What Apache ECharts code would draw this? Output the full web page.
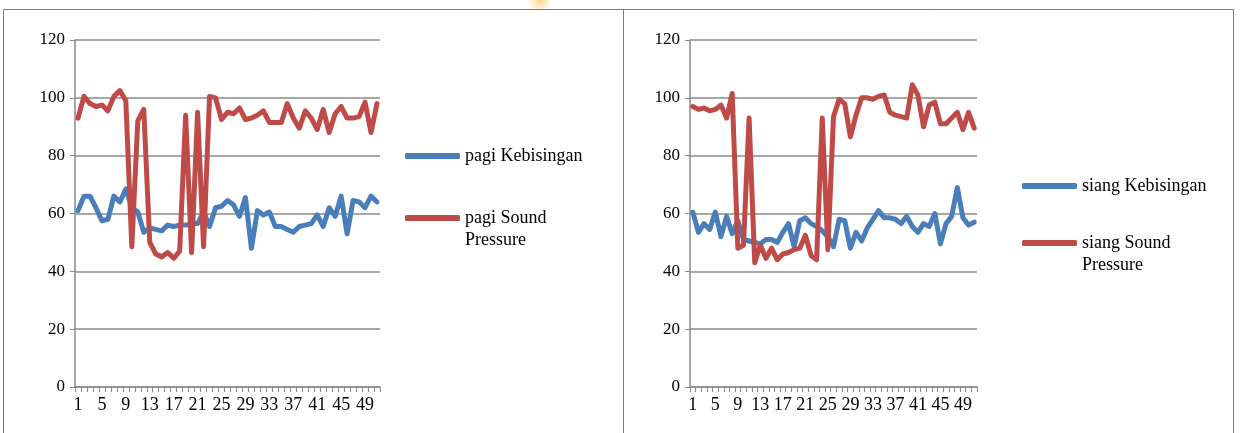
<!DOCTYPE html>
<html>
<head>
<meta charset="utf-8">
<script src="https://cdn.jsdelivr.net/npm/echarts@6/dist/echarts.min.js"></script>
<style>
  html, body { margin: 0; padding: 0; background: #ffffff; }
  #chart { width: 1245px; height: 433px; }
</style>
</head>
<body>
<div id="chart"></div>
<script>
// Measurement index (1..51)
const categories = [
  '1','2','3','4','5','6','7','8','9','10',
  '11','12','13','14','15','16','17','18','19','20',
  '21','22','23','24','25','26','27','28','29','30',
  '31','32','33','34','35','36','37','38','39','40',
  '41','42','43','44','45','46','47','48','49','50','51'
];

// Morning readings
const pagiKebisingan = [
  61, 66, 66, 62, 57.5, 58, 66, 64, 68.5, 62,
  60.5, 53.5, 55, 54.5, 54, 56, 55.5, 56, 56, 56.5,
  56.5, 60.5, 55.5, 62, 62.5, 64.5, 63, 59, 65.5, 48,
  61, 59.5, 60.5, 55.5, 55.5, 54.5, 53.5, 55.5, 56, 56.5,
  59.5, 55.5, 62, 59, 66, 53, 64.5, 64, 62, 66, 64
];
const pagiSoundPressure = [
  93, 100.5, 98, 97, 97.5, 95.5, 100.5, 102.5, 99, 48.5,
  92, 96, 50, 46, 45, 46.5, 44.5, 47, 94, 46.5,
  95, 48.5, 100.5, 100, 92.5, 95, 94.5, 96.5, 92.5, 93,
  94, 95.5, 91.5, 91.5, 91.5, 98, 93, 89.5, 95.5, 93,
  89, 96, 88, 94.5, 97, 93, 93, 93.5, 98.5, 88, 98
];

// Midday readings
const siangKebisingan = [
  60.5, 53.5, 56.5, 54.5, 60.5, 52, 59, 53, 57.5, 51,
  50.5, 50, 49.5, 51, 51, 50, 53.5, 56.5, 48.5, 57.5,
  58.5, 56.5, 55.5, 54, 52, 48.5, 58, 57.5, 48, 53.5,
  50.5, 55, 58, 61, 58.5, 58.5, 58, 56.5, 59, 55.5,
  53.5, 56.5, 55.5, 60, 49.5, 56.5, 59, 69, 58.5, 56, 57
];
const siangSoundPressure = [
  97, 96, 96.5, 95.5, 96, 97.5, 93, 101.5, 48, 49,
  93, 43, 49, 44.5, 48, 44, 46, 46.5, 47.5, 48,
  52.5, 45.5, 44, 93, 47.5, 93.5, 99.5, 98, 86.5, 94,
  100, 100, 99.5, 100.5, 101, 95, 94, 93.5, 93, 104.5,
  101, 90, 97.5, 98.5, 91, 91, 93, 95, 89, 95, 89.5
];

const seriesNames = {
  pagiA: 'pagi Kebisingan',
  pagiB: 'pagi Sound Pressure',
  siangA: 'siang Kebisingan',
  siangB: 'siang Sound Pressure'
};

const FONT = '"Liberation Serif", "Times New Roman", serif';
const AXIS_GREY = '#8a8a8a';
const BLUE = '#4a7ebb';
const RED = '#be4b48';

function makeX(gridIndex) {
  return {
    type: 'category',
    gridIndex,
    data: categories,
    boundaryGap: true,
    axisLine: { lineStyle: { color: AXIS_GREY, width: 1.5 } },
    axisTick: { show: true, interval: 0, length: 5, lineStyle: { color: AXIS_GREY } },
    axisLabel: { interval: 3, color: '#000', fontFamily: FONT, fontSize: 18, margin: 9 },
    splitLine: { show: false }
  };
}

function makeY(gridIndex) {
  return {
    type: 'value',
    gridIndex,
    min: 0,
    max: 120,
    interval: 20,
    axisLine: { show: true, lineStyle: { color: AXIS_GREY, width: 1.5 } },
    axisTick: { show: true, length: 5, lineStyle: { color: AXIS_GREY } },
    axisLabel: { color: '#000', fontFamily: FONT, fontSize: 17, margin: 10 },
    splitLine: { show: true, lineStyle: { color: AXIS_GREY, width: 1.5 } }
  };
}

function makeLine(name, data, idx, color) {
  return {
    type: 'line',
    name,
    data,
    xAxisIndex: idx,
    yAxisIndex: idx,
    symbol: 'none',
    smooth: false,
    lineStyle: { width: 5, color, join: 'round', cap: 'round' },
    itemStyle: { color },
    animation: false
  };
}

// Legend entry beside each plot; the two-line label keeps its swatch on the first line
function makeLegend(name, left, top, twoLine) {
  const lg = {
    data: [name],
    left,
    top,
    padding: 0,
    icon: 'roundRect',
    itemWidth: 55,
    itemHeight: 6,
    selectedMode: false,
    textStyle: { fontFamily: FONT, fontSize: 18, color: '#000', lineHeight: 22 }
  };
  if (twoLine) {
    lg.formatter = (n) => '\u00a0\n' + n.replace(' Pressure', '\nPressure');
  }
  return lg;
}

const chart = echarts.init(document.getElementById('chart'), null, { renderer: 'canvas' });

chart.setOption({
  backgroundColor: '#ffffff',
  animation: false,
  grid: [
    { left: 75, top: 40, width: 305, height: 347 },
    { left: 690, top: 40, width: 287, height: 347 }
  ],
  xAxis: [makeX(0), makeX(1)],
  yAxis: [makeY(0), makeY(1)],
  legend: [
    makeLegend(seriesNames.pagiA, 405, 145, false),
    makeLegend(seriesNames.pagiB, 405, 185, true),
    makeLegend(seriesNames.siangA, 1022, 175, false),
    makeLegend(seriesNames.siangB, 1022, 210, true)
  ],
  series: [
    makeLine(seriesNames.pagiA, pagiKebisingan, 0, BLUE),
    makeLine(seriesNames.pagiB, pagiSoundPressure, 0, RED),
    makeLine(seriesNames.siangA, siangKebisingan, 1, BLUE),
    makeLine(seriesNames.siangB, siangSoundPressure, 1, RED)
  ],
  graphic: [
    {
      type: 'ellipse',
      silent: true,
      z: -2,
      shape: { cx: 540, cy: 0, rx: 34, ry: 12 },
      style: {
        fill: {
          type: 'radial', x: 0.5, y: 0.5, r: 0.5,
          colorStops: [
            { offset: 0, color: 'rgba(250,195,80,0.7)' },
            { offset: 1, color: 'rgba(250,195,80,0)' }
          ]
        }
      }
    },
    {
      type: 'rect',
      silent: true,
      z: -1,
      shape: { x: 3.5, y: 9.5, width: 620, height: 440 },
      style: { fill: 'none', stroke: '#7c7c7c', lineWidth: 1 }
    },
    {
      type: 'rect',
      silent: true,
      z: -1,
      shape: { x: 623.5, y: 9.5, width: 610, height: 440 },
      style: { fill: 'none', stroke: '#7c7c7c', lineWidth: 1 }
    }
  ]
});
</script>
</body>
</html>
